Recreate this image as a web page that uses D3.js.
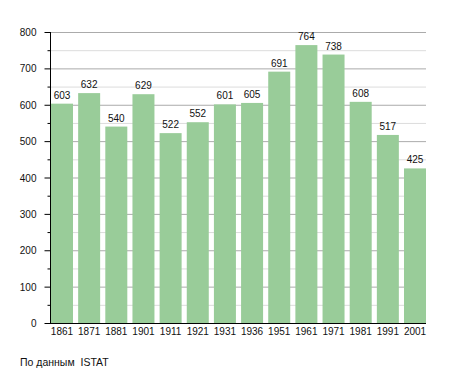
<!DOCTYPE html>
<html>
<head>
<meta charset="utf-8">
<script src="https://cdn.jsdelivr.net/npm/d3@7"></script>
<style>
  body { margin: 0; background: #fff; }
  text { font-family: "Liberation Sans", Arial, sans-serif; fill: #111; }
</style>
</head>
<body>
<svg id="chart" width="455" height="373"></svg>
<script>
'use strict';

const years = ["1861", "1871", "1881", "1901", "1911", "1921", "1931", "1936", "1951", "1961", "1971", "1981", "1991", "2001"];
const population = [603, 632, 540, 629, 522, 552, 601, 605, 691, 764, 738, 608, 517, 425];
const yTicks = [0, 100, 200, 300, 400, 500, 600, 700, 800];
const yMinorTicks = [50, 150, 250, 350, 450, 550, 650, 750];
const sourceNote = "По данным  ISTAT";

const svg = d3.select("#chart");

const x = d3.scaleBand()
    .domain(years)
    .range([51, 426])
    .paddingInner(0.19)
    .paddingOuter(0);

const y = d3.scaleLinear()
    .domain([0, 800])
    .range([323, 32]);

// minor grid
svg.append("g")
    .selectAll("line")
    .data(yMinorTicks)
    .join("line")
    .attr("x1", 50).attr("x2", 426)
    .attr("y1", d => y(d) + 0.5).attr("y2", d => y(d) + 0.5)
    .attr("stroke", "#dcdcdc");

// major grid
svg.append("g")
    .selectAll("line")
    .data(yTicks.filter(d => d > 0))
    .join("line")
    .attr("x1", 50).attr("x2", 426)
    .attr("y1", d => y(d) + 0.5).attr("y2", d => y(d) + 0.5)
    .attr("stroke", "#ababab");

// bars
svg.append("g")
    .selectAll("rect")
    .data(population)
    .join("rect")
    .attr("x", (d, i) => x(years[i]))
    .attr("y", d => y(d))
    .attr("width", x.bandwidth())
    .attr("height", d => y(0) - y(d))
    .attr("fill", "#99cc99");

// value labels
svg.append("g")
    .selectAll("text")
    .data(population)
    .join("text")
    .attr("x", (d, i) => x(years[i]) + x.bandwidth() / 2)
    .attr("y", d => y(d) - 5)
    .attr("text-anchor", "middle")
    .attr("font-size", 10)
    .text(d => d);

// y axis
const yAxis = svg.append("g").attr("transform", "translate(50.5,0)");
yAxis.append("line")
    .attr("y1", y(800)).attr("y2", y(0) + 1)
    .attr("stroke", "#000");
yAxis.selectAll("line.major")
    .data(yTicks)
    .join("line")
    .attr("class", "major")
    .attr("x1", -6).attr("x2", 0)
    .attr("y1", d => y(d) + 0.5).attr("y2", d => y(d) + 0.5)
    .attr("stroke", "#000");
yAxis.selectAll("line.minor")
    .data(yMinorTicks)
    .join("line")
    .attr("class", "minor")
    .attr("x1", -3).attr("x2", 0)
    .attr("y1", d => y(d) + 0.5).attr("y2", d => y(d) + 0.5)
    .attr("stroke", "#000");
yAxis.selectAll("text")
    .data(yTicks)
    .join("text")
    .attr("x", -14)
    .attr("y", d => y(d) + 4)
    .attr("text-anchor", "end")
    .attr("font-size", 10)
    .text(d => d);

// x axis
svg.append("line")
    .attr("x1", 50).attr("x2", 426)
    .attr("y1", y(0) + 0.5).attr("y2", y(0) + 0.5)
    .attr("stroke", "#000");
svg.append("g")
    .selectAll("text")
    .data(years)
    .join("text")
    .attr("x", d => x(d) + x.bandwidth() / 2)
    .attr("y", 335)
    .attr("text-anchor", "middle")
    .attr("font-size", 10)
    .text(d => d);

svg.append("text")
    .attr("x", 20)
    .attr("y", 366)
    .attr("font-size", 10.5)
    .style("white-space", "pre")
    .text(sourceNote);
</script>
</body>
</html>
